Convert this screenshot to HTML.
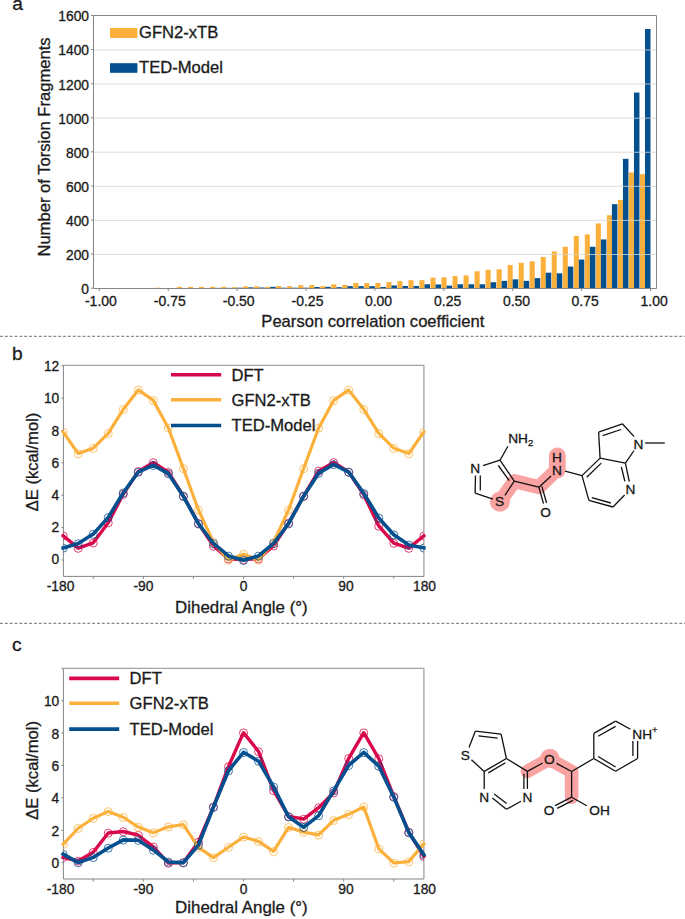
<!DOCTYPE html>
<html><head><meta charset="utf-8"><style>
html,body{margin:0;padding:0;background:#fff;width:685px;height:919px;overflow:hidden;}
svg{display:block;font-family:"Liberation Sans", sans-serif;}
text{stroke:#1a1a1a;stroke-width:0.3px;}
</style></head><body>
<svg width="685" height="919" viewBox="0 0 685 919">
<rect width="685" height="919" fill="#fff"/>
<text x="12.2" y="10" font-size="19.2" fill="#1a1a1a">a</text>
<rect x="99.75" y="288.20" width="5.06" height="0.00" fill="#FBB03B"/>
<rect x="104.81" y="288.03" width="5.51" height="0.17" fill="#04508F"/>
<rect x="110.77" y="288.20" width="5.06" height="0.00" fill="#FBB03B"/>
<rect x="115.84" y="288.03" width="5.51" height="0.17" fill="#04508F"/>
<rect x="121.80" y="288.20" width="5.06" height="0.00" fill="#FBB03B"/>
<rect x="126.86" y="288.03" width="5.51" height="0.17" fill="#04508F"/>
<rect x="132.82" y="288.20" width="5.06" height="0.00" fill="#FBB03B"/>
<rect x="137.88" y="288.03" width="5.51" height="0.17" fill="#04508F"/>
<rect x="143.85" y="288.20" width="5.06" height="0.00" fill="#FBB03B"/>
<rect x="148.91" y="288.03" width="5.51" height="0.17" fill="#04508F"/>
<rect x="154.87" y="287.69" width="5.06" height="0.51" fill="#FBB03B"/>
<rect x="159.93" y="288.03" width="5.51" height="0.17" fill="#04508F"/>
<rect x="165.89" y="288.03" width="5.06" height="0.17" fill="#FBB03B"/>
<rect x="170.96" y="288.03" width="5.51" height="0.17" fill="#04508F"/>
<rect x="176.92" y="286.84" width="5.06" height="1.36" fill="#FBB03B"/>
<rect x="181.98" y="288.03" width="5.51" height="0.17" fill="#04508F"/>
<rect x="187.94" y="286.84" width="5.06" height="1.36" fill="#FBB03B"/>
<rect x="193.00" y="288.03" width="5.51" height="0.17" fill="#04508F"/>
<rect x="198.97" y="286.84" width="5.06" height="1.36" fill="#FBB03B"/>
<rect x="204.03" y="288.03" width="5.51" height="0.17" fill="#04508F"/>
<rect x="209.99" y="286.84" width="5.06" height="1.36" fill="#FBB03B"/>
<rect x="215.05" y="287.86" width="5.51" height="0.34" fill="#04508F"/>
<rect x="221.01" y="286.84" width="5.06" height="1.36" fill="#FBB03B"/>
<rect x="226.08" y="287.86" width="5.51" height="0.34" fill="#04508F"/>
<rect x="232.04" y="287.18" width="5.06" height="1.02" fill="#FBB03B"/>
<rect x="237.10" y="287.69" width="5.51" height="0.51" fill="#04508F"/>
<rect x="243.06" y="286.33" width="5.06" height="1.87" fill="#FBB03B"/>
<rect x="248.12" y="287.35" width="5.51" height="0.85" fill="#04508F"/>
<rect x="254.09" y="286.33" width="5.06" height="1.87" fill="#FBB03B"/>
<rect x="259.15" y="287.52" width="5.51" height="0.68" fill="#04508F"/>
<rect x="265.11" y="286.84" width="5.06" height="1.36" fill="#FBB03B"/>
<rect x="270.17" y="286.84" width="5.51" height="1.36" fill="#04508F"/>
<rect x="276.13" y="285.98" width="5.06" height="2.22" fill="#FBB03B"/>
<rect x="281.20" y="287.69" width="5.51" height="0.51" fill="#04508F"/>
<rect x="287.16" y="286.15" width="5.06" height="2.05" fill="#FBB03B"/>
<rect x="292.22" y="287.69" width="5.51" height="0.51" fill="#04508F"/>
<rect x="298.18" y="285.13" width="5.06" height="3.07" fill="#FBB03B"/>
<rect x="303.24" y="287.69" width="5.51" height="0.51" fill="#04508F"/>
<rect x="309.21" y="285.13" width="5.06" height="3.07" fill="#FBB03B"/>
<rect x="314.27" y="287.01" width="5.51" height="1.19" fill="#04508F"/>
<rect x="320.23" y="286.15" width="5.06" height="2.05" fill="#FBB03B"/>
<rect x="325.29" y="286.84" width="5.51" height="1.36" fill="#04508F"/>
<rect x="331.25" y="284.28" width="5.06" height="3.92" fill="#FBB03B"/>
<rect x="336.32" y="287.18" width="5.51" height="1.02" fill="#04508F"/>
<rect x="342.28" y="284.96" width="5.06" height="3.24" fill="#FBB03B"/>
<rect x="347.34" y="286.15" width="5.51" height="2.05" fill="#04508F"/>
<rect x="353.30" y="282.92" width="5.06" height="5.28" fill="#FBB03B"/>
<rect x="358.36" y="286.15" width="5.51" height="2.05" fill="#04508F"/>
<rect x="364.33" y="283.09" width="5.06" height="5.11" fill="#FBB03B"/>
<rect x="369.39" y="286.15" width="5.51" height="2.05" fill="#04508F"/>
<rect x="375.35" y="282.92" width="5.06" height="5.28" fill="#FBB03B"/>
<rect x="380.41" y="287.01" width="5.51" height="1.19" fill="#04508F"/>
<rect x="386.37" y="282.06" width="5.06" height="6.14" fill="#FBB03B"/>
<rect x="391.44" y="285.47" width="5.51" height="2.73" fill="#04508F"/>
<rect x="397.40" y="281.04" width="5.06" height="7.16" fill="#FBB03B"/>
<rect x="402.46" y="285.98" width="5.51" height="2.22" fill="#04508F"/>
<rect x="408.42" y="280.19" width="5.06" height="8.01" fill="#FBB03B"/>
<rect x="413.48" y="285.98" width="5.51" height="2.22" fill="#04508F"/>
<rect x="419.45" y="280.19" width="5.06" height="8.01" fill="#FBB03B"/>
<rect x="424.51" y="284.28" width="5.51" height="3.92" fill="#04508F"/>
<rect x="430.47" y="277.63" width="5.06" height="10.57" fill="#FBB03B"/>
<rect x="435.53" y="284.45" width="5.51" height="3.75" fill="#04508F"/>
<rect x="441.49" y="277.29" width="5.06" height="10.91" fill="#FBB03B"/>
<rect x="446.56" y="285.64" width="5.51" height="2.56" fill="#04508F"/>
<rect x="452.52" y="276.10" width="5.06" height="12.10" fill="#FBB03B"/>
<rect x="457.58" y="284.28" width="5.51" height="3.92" fill="#04508F"/>
<rect x="463.54" y="275.42" width="5.06" height="12.78" fill="#FBB03B"/>
<rect x="468.60" y="284.28" width="5.51" height="3.92" fill="#04508F"/>
<rect x="474.57" y="271.33" width="5.06" height="16.87" fill="#FBB03B"/>
<rect x="479.63" y="284.28" width="5.51" height="3.92" fill="#04508F"/>
<rect x="485.59" y="269.79" width="5.06" height="18.41" fill="#FBB03B"/>
<rect x="490.65" y="282.23" width="5.51" height="5.97" fill="#04508F"/>
<rect x="496.61" y="269.28" width="5.06" height="18.92" fill="#FBB03B"/>
<rect x="501.68" y="280.87" width="5.51" height="7.33" fill="#04508F"/>
<rect x="507.64" y="265.02" width="5.06" height="23.18" fill="#FBB03B"/>
<rect x="512.70" y="279.34" width="5.51" height="8.86" fill="#04508F"/>
<rect x="518.66" y="262.80" width="5.06" height="25.40" fill="#FBB03B"/>
<rect x="523.72" y="280.87" width="5.51" height="7.33" fill="#04508F"/>
<rect x="529.69" y="261.27" width="5.06" height="26.93" fill="#FBB03B"/>
<rect x="534.75" y="278.14" width="5.51" height="10.06" fill="#04508F"/>
<rect x="540.71" y="257.01" width="5.06" height="31.19" fill="#FBB03B"/>
<rect x="545.77" y="272.69" width="5.51" height="15.51" fill="#04508F"/>
<rect x="551.73" y="251.39" width="5.06" height="36.81" fill="#FBB03B"/>
<rect x="556.80" y="273.37" width="5.51" height="14.83" fill="#04508F"/>
<rect x="562.76" y="246.78" width="5.06" height="41.42" fill="#FBB03B"/>
<rect x="567.82" y="266.55" width="5.51" height="21.65" fill="#04508F"/>
<rect x="573.78" y="235.88" width="5.06" height="52.32" fill="#FBB03B"/>
<rect x="578.84" y="259.57" width="5.51" height="28.63" fill="#04508F"/>
<rect x="584.81" y="234.34" width="5.06" height="53.86" fill="#FBB03B"/>
<rect x="589.87" y="246.78" width="5.51" height="41.42" fill="#04508F"/>
<rect x="595.83" y="223.43" width="5.06" height="64.77" fill="#FBB03B"/>
<rect x="600.89" y="239.45" width="5.51" height="48.75" fill="#04508F"/>
<rect x="606.85" y="215.25" width="5.06" height="72.95" fill="#FBB03B"/>
<rect x="611.92" y="204.17" width="5.51" height="84.03" fill="#04508F"/>
<rect x="617.88" y="199.91" width="5.06" height="88.29" fill="#FBB03B"/>
<rect x="622.94" y="158.84" width="5.51" height="129.36" fill="#04508F"/>
<rect x="628.90" y="172.47" width="5.06" height="115.73" fill="#FBB03B"/>
<rect x="633.96" y="92.54" width="5.51" height="195.66" fill="#04508F"/>
<rect x="639.93" y="174.18" width="5.06" height="114.02" fill="#FBB03B"/>
<rect x="644.99" y="28.96" width="5.51" height="259.24" fill="#04508F"/>
<line x1="94.0" y1="254.51" x2="656.0" y2="254.51" stroke="#d6d6d6" stroke-opacity="0.8" stroke-width="1"/>
<line x1="94.0" y1="220.42" x2="656.0" y2="220.42" stroke="#d6d6d6" stroke-opacity="0.8" stroke-width="1"/>
<line x1="94.0" y1="186.34" x2="656.0" y2="186.34" stroke="#d6d6d6" stroke-opacity="0.8" stroke-width="1"/>
<line x1="94.0" y1="152.25" x2="656.0" y2="152.25" stroke="#d6d6d6" stroke-opacity="0.8" stroke-width="1"/>
<line x1="94.0" y1="118.16" x2="656.0" y2="118.16" stroke="#d6d6d6" stroke-opacity="0.8" stroke-width="1"/>
<line x1="94.0" y1="84.08" x2="656.0" y2="84.08" stroke="#d6d6d6" stroke-opacity="0.8" stroke-width="1"/>
<line x1="94.0" y1="49.99" x2="656.0" y2="49.99" stroke="#d6d6d6" stroke-opacity="0.8" stroke-width="1"/>
<path d="M93.5 288.5 V15.5 H656.5 V288.5 Z" fill="none" stroke="#858585" stroke-width="1"/>
<line x1="91.0" y1="288.20" x2="93.5" y2="288.20" stroke="#858585" stroke-width="1"/>
<text x="89" y="294.10" font-size="13.8" text-anchor="end" fill="#1a1a1a">0</text>
<line x1="91.0" y1="254.11" x2="93.5" y2="254.11" stroke="#858585" stroke-width="1"/>
<text x="89" y="260.01" font-size="13.8" text-anchor="end" fill="#1a1a1a">200</text>
<line x1="91.0" y1="220.02" x2="93.5" y2="220.02" stroke="#858585" stroke-width="1"/>
<text x="89" y="225.92" font-size="13.8" text-anchor="end" fill="#1a1a1a">400</text>
<line x1="91.0" y1="185.94" x2="93.5" y2="185.94" stroke="#858585" stroke-width="1"/>
<text x="89" y="191.84" font-size="13.8" text-anchor="end" fill="#1a1a1a">600</text>
<line x1="91.0" y1="151.85" x2="93.5" y2="151.85" stroke="#858585" stroke-width="1"/>
<text x="89" y="157.75" font-size="13.8" text-anchor="end" fill="#1a1a1a">800</text>
<line x1="91.0" y1="117.76" x2="93.5" y2="117.76" stroke="#858585" stroke-width="1"/>
<text x="89" y="123.66" font-size="13.8" text-anchor="end" fill="#1a1a1a">1000</text>
<line x1="91.0" y1="83.68" x2="93.5" y2="83.68" stroke="#858585" stroke-width="1"/>
<text x="89" y="89.58" font-size="13.8" text-anchor="end" fill="#1a1a1a">1200</text>
<line x1="91.0" y1="49.59" x2="93.5" y2="49.59" stroke="#858585" stroke-width="1"/>
<text x="89" y="55.49" font-size="13.8" text-anchor="end" fill="#1a1a1a">1400</text>
<line x1="91.0" y1="15.50" x2="93.5" y2="15.50" stroke="#858585" stroke-width="1"/>
<text x="89" y="21.40" font-size="13.8" text-anchor="end" fill="#1a1a1a">1600</text>
<line x1="99.30" y1="288.5" x2="99.30" y2="291.0" stroke="#858585" stroke-width="1"/>
<text x="100.90" y="305.8" font-size="14" text-anchor="middle" fill="#1a1a1a">-1.00</text>
<line x1="168.20" y1="288.5" x2="168.20" y2="291.0" stroke="#858585" stroke-width="1"/>
<text x="169.80" y="305.8" font-size="14" text-anchor="middle" fill="#1a1a1a">-0.75</text>
<line x1="237.10" y1="288.5" x2="237.10" y2="291.0" stroke="#858585" stroke-width="1"/>
<text x="238.70" y="305.8" font-size="14" text-anchor="middle" fill="#1a1a1a">-0.50</text>
<line x1="306.00" y1="288.5" x2="306.00" y2="291.0" stroke="#858585" stroke-width="1"/>
<text x="307.50" y="305.8" font-size="14" text-anchor="middle" fill="#1a1a1a">-0.25</text>
<line x1="374.90" y1="288.5" x2="374.90" y2="291.0" stroke="#858585" stroke-width="1"/>
<text x="378.50" y="305.8" font-size="14" text-anchor="middle" fill="#1a1a1a">0.00</text>
<line x1="443.80" y1="288.5" x2="443.80" y2="291.0" stroke="#858585" stroke-width="1"/>
<text x="447.60" y="305.8" font-size="14" text-anchor="middle" fill="#1a1a1a">0.25</text>
<line x1="512.70" y1="288.5" x2="512.70" y2="291.0" stroke="#858585" stroke-width="1"/>
<text x="516.50" y="305.8" font-size="14" text-anchor="middle" fill="#1a1a1a">0.50</text>
<line x1="581.60" y1="288.5" x2="581.60" y2="291.0" stroke="#858585" stroke-width="1"/>
<text x="585.10" y="305.8" font-size="14" text-anchor="middle" fill="#1a1a1a">0.75</text>
<line x1="650.50" y1="288.5" x2="650.50" y2="291.0" stroke="#858585" stroke-width="1"/>
<text x="654.20" y="305.8" font-size="14" text-anchor="middle" fill="#1a1a1a">1.00</text>
<text x="372.8" y="326.8" font-size="16.6" text-anchor="middle" fill="#1a1a1a">Pearson correlation coefficient</text>
<text transform="translate(49.8 147) rotate(-90)" font-size="16.6" text-anchor="middle" fill="#1a1a1a">Number of Torsion Fragments</text>
<rect x="110" y="28" width="27.4" height="10" fill="#FBB03B"/>
<rect x="110" y="63.2" width="27.4" height="9.6" fill="#04508F"/>
<text x="139" y="38.4" font-size="16.6" fill="#1a1a1a">GFN2-xTB</text>
<text x="139" y="72.8" font-size="16.6" fill="#1a1a1a">TED-Model</text>
<line x1="0" y1="336.4" x2="685" y2="336.4" stroke="#8a8a8a" stroke-width="1.1" stroke-dasharray="2.88 1.972"/>
<line x1="0" y1="623.4" x2="685" y2="623.4" stroke="#8a8a8a" stroke-width="1.1" stroke-dasharray="2.88 1.972"/>
<clipPath id="clipb"><rect x="63.4" y="365.3" width="360.5" height="211.09999999999997"/></clipPath>
<text x="12.0" y="359.6" font-size="19.2" fill="#1a1a1a">b</text>
<path d="M63.4 365.3 H423.9 V576.4" fill="none" stroke="#a5a5a5" stroke-width="1.3"/>
<path d="M63.4 365.3 V576.4 H423.9" fill="none" stroke="#858585" stroke-width="1"/>
<line x1="61.4" y1="560.00" x2="63.4" y2="560.00" stroke="#858585" stroke-width="1"/>
<text x="59.3" y="564.40" font-size="13.8" text-anchor="end" fill="#1a1a1a">0</text>
<line x1="61.4" y1="527.60" x2="63.4" y2="527.60" stroke="#858585" stroke-width="1"/>
<text x="59.3" y="532.18" font-size="13.8" text-anchor="end" fill="#1a1a1a">2</text>
<line x1="61.4" y1="495.20" x2="63.4" y2="495.20" stroke="#858585" stroke-width="1"/>
<text x="59.3" y="499.97" font-size="13.8" text-anchor="end" fill="#1a1a1a">4</text>
<line x1="61.4" y1="462.80" x2="63.4" y2="462.80" stroke="#858585" stroke-width="1"/>
<text x="59.3" y="467.75" font-size="13.8" text-anchor="end" fill="#1a1a1a">6</text>
<line x1="61.4" y1="430.40" x2="63.4" y2="430.40" stroke="#858585" stroke-width="1"/>
<text x="59.3" y="435.53" font-size="13.8" text-anchor="end" fill="#1a1a1a">8</text>
<line x1="61.4" y1="398.00" x2="63.4" y2="398.00" stroke="#858585" stroke-width="1"/>
<text x="59.3" y="403.32" font-size="13.8" text-anchor="end" fill="#1a1a1a">10</text>
<line x1="61.4" y1="365.60" x2="63.4" y2="365.60" stroke="#858585" stroke-width="1"/>
<text x="59.3" y="371.10" font-size="13.8" text-anchor="end" fill="#1a1a1a">12</text>
<line x1="93.22" y1="576.4" x2="93.22" y2="578.9" stroke="#858585" stroke-width="1"/>
<line x1="143.31" y1="576.4" x2="143.31" y2="578.9" stroke="#858585" stroke-width="1"/>
<line x1="193.41" y1="576.4" x2="193.41" y2="578.9" stroke="#858585" stroke-width="1"/>
<line x1="243.50" y1="576.4" x2="243.50" y2="578.9" stroke="#858585" stroke-width="1"/>
<line x1="293.60" y1="576.4" x2="293.60" y2="578.9" stroke="#858585" stroke-width="1"/>
<line x1="343.69" y1="576.4" x2="343.69" y2="578.9" stroke="#858585" stroke-width="1"/>
<line x1="393.78" y1="576.4" x2="393.78" y2="578.9" stroke="#858585" stroke-width="1"/>
<text x="60.5" y="590.8" font-size="13.8" text-anchor="middle" fill="#1a1a1a">-180</text>
<text x="143.5" y="590.8" font-size="13.8" text-anchor="middle" fill="#1a1a1a">-90</text>
<text x="243.6" y="590.8" font-size="13.8" text-anchor="middle" fill="#1a1a1a">0</text>
<text x="346" y="590.8" font-size="13.8" text-anchor="middle" fill="#1a1a1a">90</text>
<text x="424.5" y="590.8" font-size="13.8" text-anchor="middle" fill="#1a1a1a">180</text>
<text x="241.4" y="613.2" font-size="16.9" text-anchor="middle" fill="#1a1a1a">Dihedral Angle (°)</text>
<text transform="translate(38.3 462) rotate(-90)" font-size="16.6" text-anchor="middle" fill="#1a1a1a">ΔE (kcal/mol)</text>
<path d="M63.16 535.70 L78.19 548.17 L93.22 542.83 L108.24 522.74 L123.27 494.07 L138.30 471.39 L153.33 462.48 L168.36 472.20 L183.39 496.01 L198.41 523.39 L213.44 546.07 L228.47 558.70 L243.50 559.51 L258.53 558.70 L273.56 545.74 L288.59 523.06 L303.61 496.17 L318.64 470.90 L333.67 462.48 L348.70 472.03 L363.73 494.55 L378.76 525.98 L393.78 543.15 L408.81 548.17 L423.84 535.86" fill="none" stroke="#D9084A" stroke-width="3.4" stroke-linejoin="round" stroke-linecap="square"/>
<g clip-path="url(#clipb)">
<circle cx="63.16" cy="535.90" r="4.0" fill="none" stroke="#D9084A" stroke-width="0.9" stroke-opacity="0.85"/>
<circle cx="78.19" cy="548.37" r="4.0" fill="none" stroke="#D9084A" stroke-width="0.9" stroke-opacity="0.85"/>
<circle cx="93.22" cy="543.03" r="4.0" fill="none" stroke="#D9084A" stroke-width="0.9" stroke-opacity="0.85"/>
<circle cx="108.24" cy="522.94" r="4.0" fill="none" stroke="#D9084A" stroke-width="0.9" stroke-opacity="0.85"/>
<circle cx="123.27" cy="494.27" r="4.0" fill="none" stroke="#D9084A" stroke-width="0.9" stroke-opacity="0.85"/>
<circle cx="138.30" cy="471.59" r="4.0" fill="none" stroke="#D9084A" stroke-width="0.9" stroke-opacity="0.85"/>
<circle cx="153.33" cy="462.68" r="4.0" fill="none" stroke="#D9084A" stroke-width="0.9" stroke-opacity="0.85"/>
<circle cx="168.36" cy="472.40" r="4.0" fill="none" stroke="#D9084A" stroke-width="0.9" stroke-opacity="0.85"/>
<circle cx="183.39" cy="496.21" r="4.0" fill="none" stroke="#D9084A" stroke-width="0.9" stroke-opacity="0.85"/>
<circle cx="198.41" cy="523.59" r="4.0" fill="none" stroke="#D9084A" stroke-width="0.9" stroke-opacity="0.85"/>
<circle cx="213.44" cy="546.27" r="4.0" fill="none" stroke="#D9084A" stroke-width="0.9" stroke-opacity="0.85"/>
<circle cx="228.47" cy="558.90" r="4.0" fill="none" stroke="#D9084A" stroke-width="0.9" stroke-opacity="0.85"/>
<circle cx="243.50" cy="559.71" r="4.0" fill="none" stroke="#D9084A" stroke-width="0.9" stroke-opacity="0.85"/>
<circle cx="258.53" cy="558.90" r="4.0" fill="none" stroke="#D9084A" stroke-width="0.9" stroke-opacity="0.85"/>
<circle cx="273.56" cy="545.94" r="4.0" fill="none" stroke="#D9084A" stroke-width="0.9" stroke-opacity="0.85"/>
<circle cx="288.59" cy="523.26" r="4.0" fill="none" stroke="#D9084A" stroke-width="0.9" stroke-opacity="0.85"/>
<circle cx="303.61" cy="496.37" r="4.0" fill="none" stroke="#D9084A" stroke-width="0.9" stroke-opacity="0.85"/>
<circle cx="318.64" cy="471.10" r="4.0" fill="none" stroke="#D9084A" stroke-width="0.9" stroke-opacity="0.85"/>
<circle cx="333.67" cy="462.68" r="4.0" fill="none" stroke="#D9084A" stroke-width="0.9" stroke-opacity="0.85"/>
<circle cx="348.70" cy="472.23" r="4.0" fill="none" stroke="#D9084A" stroke-width="0.9" stroke-opacity="0.85"/>
<circle cx="363.73" cy="494.75" r="4.0" fill="none" stroke="#D9084A" stroke-width="0.9" stroke-opacity="0.85"/>
<circle cx="378.76" cy="526.18" r="4.0" fill="none" stroke="#D9084A" stroke-width="0.9" stroke-opacity="0.85"/>
<circle cx="393.78" cy="543.35" r="4.0" fill="none" stroke="#D9084A" stroke-width="0.9" stroke-opacity="0.85"/>
<circle cx="408.81" cy="548.37" r="4.0" fill="none" stroke="#D9084A" stroke-width="0.9" stroke-opacity="0.85"/>
<circle cx="423.84" cy="536.06" r="4.0" fill="none" stroke="#D9084A" stroke-width="0.9" stroke-opacity="0.85"/>
</g>
<path d="M63.16 432.02 L78.19 453.57 L93.22 448.22 L108.24 433.32 L123.27 409.34 L138.30 389.90 L153.33 400.43 L168.36 427.97 L183.39 468.47 L198.41 509.94 L213.44 542.18 L228.47 560.00 L243.50 554.17 L258.53 560.00 L273.56 542.18 L288.59 509.94 L303.61 468.47 L318.64 427.97 L333.67 400.43 L348.70 389.90 L363.73 409.34 L378.76 433.32 L393.78 448.22 L408.81 453.57 L423.84 432.02" fill="none" stroke="#FBB03B" stroke-width="3.2" stroke-linejoin="round" stroke-linecap="square"/>
<g clip-path="url(#clipb)">
<circle cx="63.16" cy="432.22" r="4.0" fill="none" stroke="#FBB03B" stroke-width="0.9" stroke-opacity="0.85"/>
<circle cx="78.19" cy="453.77" r="4.0" fill="none" stroke="#FBB03B" stroke-width="0.9" stroke-opacity="0.85"/>
<circle cx="93.22" cy="448.42" r="4.0" fill="none" stroke="#FBB03B" stroke-width="0.9" stroke-opacity="0.85"/>
<circle cx="108.24" cy="433.52" r="4.0" fill="none" stroke="#FBB03B" stroke-width="0.9" stroke-opacity="0.85"/>
<circle cx="123.27" cy="409.54" r="4.0" fill="none" stroke="#FBB03B" stroke-width="0.9" stroke-opacity="0.85"/>
<circle cx="138.30" cy="390.10" r="4.0" fill="none" stroke="#FBB03B" stroke-width="0.9" stroke-opacity="0.85"/>
<circle cx="153.33" cy="400.63" r="4.0" fill="none" stroke="#FBB03B" stroke-width="0.9" stroke-opacity="0.85"/>
<circle cx="168.36" cy="428.17" r="4.0" fill="none" stroke="#FBB03B" stroke-width="0.9" stroke-opacity="0.85"/>
<circle cx="183.39" cy="468.67" r="4.0" fill="none" stroke="#FBB03B" stroke-width="0.9" stroke-opacity="0.85"/>
<circle cx="198.41" cy="510.14" r="4.0" fill="none" stroke="#FBB03B" stroke-width="0.9" stroke-opacity="0.85"/>
<circle cx="213.44" cy="542.38" r="4.0" fill="none" stroke="#FBB03B" stroke-width="0.9" stroke-opacity="0.85"/>
<circle cx="228.47" cy="560.20" r="4.0" fill="none" stroke="#FBB03B" stroke-width="0.9" stroke-opacity="0.85"/>
<circle cx="243.50" cy="554.37" r="4.0" fill="none" stroke="#FBB03B" stroke-width="0.9" stroke-opacity="0.85"/>
<circle cx="258.53" cy="560.20" r="4.0" fill="none" stroke="#FBB03B" stroke-width="0.9" stroke-opacity="0.85"/>
<circle cx="273.56" cy="542.38" r="4.0" fill="none" stroke="#FBB03B" stroke-width="0.9" stroke-opacity="0.85"/>
<circle cx="288.59" cy="510.14" r="4.0" fill="none" stroke="#FBB03B" stroke-width="0.9" stroke-opacity="0.85"/>
<circle cx="303.61" cy="468.67" r="4.0" fill="none" stroke="#FBB03B" stroke-width="0.9" stroke-opacity="0.85"/>
<circle cx="318.64" cy="428.17" r="4.0" fill="none" stroke="#FBB03B" stroke-width="0.9" stroke-opacity="0.85"/>
<circle cx="333.67" cy="400.63" r="4.0" fill="none" stroke="#FBB03B" stroke-width="0.9" stroke-opacity="0.85"/>
<circle cx="348.70" cy="390.10" r="4.0" fill="none" stroke="#FBB03B" stroke-width="0.9" stroke-opacity="0.85"/>
<circle cx="363.73" cy="409.54" r="4.0" fill="none" stroke="#FBB03B" stroke-width="0.9" stroke-opacity="0.85"/>
<circle cx="378.76" cy="433.52" r="4.0" fill="none" stroke="#FBB03B" stroke-width="0.9" stroke-opacity="0.85"/>
<circle cx="393.78" cy="448.42" r="4.0" fill="none" stroke="#FBB03B" stroke-width="0.9" stroke-opacity="0.85"/>
<circle cx="408.81" cy="453.77" r="4.0" fill="none" stroke="#FBB03B" stroke-width="0.9" stroke-opacity="0.85"/>
<circle cx="423.84" cy="432.22" r="4.0" fill="none" stroke="#FBB03B" stroke-width="0.9" stroke-opacity="0.85"/>
</g>
<path d="M63.16 548.01 L78.19 543.48 L93.22 534.08 L108.24 517.39 L123.27 492.77 L138.30 472.03 L153.33 465.23 L168.36 473.65 L183.39 496.33 L198.41 523.71 L213.44 543.48 L228.47 555.95 L243.50 560.32 L258.53 555.95 L273.56 543.48 L288.59 523.71 L303.61 496.17 L318.64 473.17 L333.67 464.42 L348.70 472.03 L363.73 493.26 L378.76 517.88 L393.78 534.73 L408.81 544.93 L423.84 547.85" fill="none" stroke="#04508F" stroke-width="3.6" stroke-linejoin="round" stroke-linecap="square"/>
<g clip-path="url(#clipb)">
<circle cx="63.16" cy="548.21" r="4.0" fill="none" stroke="#04508F" stroke-width="0.9" stroke-opacity="0.85"/>
<circle cx="78.19" cy="543.68" r="4.0" fill="none" stroke="#04508F" stroke-width="0.9" stroke-opacity="0.85"/>
<circle cx="93.22" cy="534.28" r="4.0" fill="none" stroke="#04508F" stroke-width="0.9" stroke-opacity="0.85"/>
<circle cx="108.24" cy="517.59" r="4.0" fill="none" stroke="#04508F" stroke-width="0.9" stroke-opacity="0.85"/>
<circle cx="123.27" cy="492.97" r="4.0" fill="none" stroke="#04508F" stroke-width="0.9" stroke-opacity="0.85"/>
<circle cx="138.30" cy="472.23" r="4.0" fill="none" stroke="#04508F" stroke-width="0.9" stroke-opacity="0.85"/>
<circle cx="153.33" cy="465.43" r="4.0" fill="none" stroke="#04508F" stroke-width="0.9" stroke-opacity="0.85"/>
<circle cx="168.36" cy="473.85" r="4.0" fill="none" stroke="#04508F" stroke-width="0.9" stroke-opacity="0.85"/>
<circle cx="183.39" cy="496.53" r="4.0" fill="none" stroke="#04508F" stroke-width="0.9" stroke-opacity="0.85"/>
<circle cx="198.41" cy="523.91" r="4.0" fill="none" stroke="#04508F" stroke-width="0.9" stroke-opacity="0.85"/>
<circle cx="213.44" cy="543.68" r="4.0" fill="none" stroke="#04508F" stroke-width="0.9" stroke-opacity="0.85"/>
<circle cx="228.47" cy="556.15" r="4.0" fill="none" stroke="#04508F" stroke-width="0.9" stroke-opacity="0.85"/>
<circle cx="243.50" cy="560.52" r="4.0" fill="none" stroke="#04508F" stroke-width="0.9" stroke-opacity="0.85"/>
<circle cx="258.53" cy="556.15" r="4.0" fill="none" stroke="#04508F" stroke-width="0.9" stroke-opacity="0.85"/>
<circle cx="273.56" cy="543.68" r="4.0" fill="none" stroke="#04508F" stroke-width="0.9" stroke-opacity="0.85"/>
<circle cx="288.59" cy="523.91" r="4.0" fill="none" stroke="#04508F" stroke-width="0.9" stroke-opacity="0.85"/>
<circle cx="303.61" cy="496.37" r="4.0" fill="none" stroke="#04508F" stroke-width="0.9" stroke-opacity="0.85"/>
<circle cx="318.64" cy="473.37" r="4.0" fill="none" stroke="#04508F" stroke-width="0.9" stroke-opacity="0.85"/>
<circle cx="333.67" cy="464.62" r="4.0" fill="none" stroke="#04508F" stroke-width="0.9" stroke-opacity="0.85"/>
<circle cx="348.70" cy="472.23" r="4.0" fill="none" stroke="#04508F" stroke-width="0.9" stroke-opacity="0.85"/>
<circle cx="363.73" cy="493.46" r="4.0" fill="none" stroke="#04508F" stroke-width="0.9" stroke-opacity="0.85"/>
<circle cx="378.76" cy="518.08" r="4.0" fill="none" stroke="#04508F" stroke-width="0.9" stroke-opacity="0.85"/>
<circle cx="393.78" cy="534.93" r="4.0" fill="none" stroke="#04508F" stroke-width="0.9" stroke-opacity="0.85"/>
<circle cx="408.81" cy="545.13" r="4.0" fill="none" stroke="#04508F" stroke-width="0.9" stroke-opacity="0.85"/>
<circle cx="423.84" cy="548.05" r="4.0" fill="none" stroke="#04508F" stroke-width="0.9" stroke-opacity="0.85"/>
</g>
<line x1="171" y1="374.8" x2="221.2" y2="374.8" stroke="#D9084A" stroke-width="3.6"/>
<text x="231.5" y="380.70" font-size="16.6" fill="#1a1a1a">DFT</text>
<line x1="171" y1="399.7" x2="221.2" y2="399.7" stroke="#FBB03B" stroke-width="3.6"/>
<text x="231.5" y="405.60" font-size="16.6" fill="#1a1a1a">GFN2-xTB</text>
<line x1="171" y1="425.5" x2="221.2" y2="425.5" stroke="#04508F" stroke-width="3.6"/>
<text x="231.5" y="431.40" font-size="16.6" fill="#1a1a1a">TED-Model</text>
<clipPath id="clipc"><rect x="63.4" y="668.4" width="360.5" height="210.60000000000002"/></clipPath>
<text x="12.0" y="651" font-size="19.2" fill="#1a1a1a">c</text>
<path d="M63.4 668.4 H423.9 V879.0" fill="none" stroke="#a5a5a5" stroke-width="1.3"/>
<path d="M63.4 668.4 V879.0 H423.9" fill="none" stroke="#858585" stroke-width="1"/>
<line x1="61.4" y1="862.60" x2="63.4" y2="862.60" stroke="#858585" stroke-width="1"/>
<text x="59.3" y="868.10" font-size="13.8" text-anchor="end" fill="#1a1a1a">0</text>
<line x1="61.4" y1="830.20" x2="63.4" y2="830.20" stroke="#858585" stroke-width="1"/>
<text x="59.3" y="835.70" font-size="13.8" text-anchor="end" fill="#1a1a1a">2</text>
<line x1="61.4" y1="797.80" x2="63.4" y2="797.80" stroke="#858585" stroke-width="1"/>
<text x="59.3" y="803.30" font-size="13.8" text-anchor="end" fill="#1a1a1a">4</text>
<line x1="61.4" y1="765.40" x2="63.4" y2="765.40" stroke="#858585" stroke-width="1"/>
<text x="59.3" y="770.90" font-size="13.8" text-anchor="end" fill="#1a1a1a">6</text>
<line x1="61.4" y1="733.00" x2="63.4" y2="733.00" stroke="#858585" stroke-width="1"/>
<text x="59.3" y="738.50" font-size="13.8" text-anchor="end" fill="#1a1a1a">8</text>
<line x1="61.4" y1="700.60" x2="63.4" y2="700.60" stroke="#858585" stroke-width="1"/>
<text x="59.3" y="706.10" font-size="13.8" text-anchor="end" fill="#1a1a1a">10</text>
<line x1="61.4" y1="668.20" x2="63.4" y2="668.20" stroke="#858585" stroke-width="1"/>
<line x1="93.22" y1="879.0" x2="93.22" y2="881.5" stroke="#858585" stroke-width="1"/>
<line x1="143.31" y1="879.0" x2="143.31" y2="881.5" stroke="#858585" stroke-width="1"/>
<line x1="193.41" y1="879.0" x2="193.41" y2="881.5" stroke="#858585" stroke-width="1"/>
<line x1="243.50" y1="879.0" x2="243.50" y2="881.5" stroke="#858585" stroke-width="1"/>
<line x1="293.60" y1="879.0" x2="293.60" y2="881.5" stroke="#858585" stroke-width="1"/>
<line x1="343.69" y1="879.0" x2="343.69" y2="881.5" stroke="#858585" stroke-width="1"/>
<line x1="393.78" y1="879.0" x2="393.78" y2="881.5" stroke="#858585" stroke-width="1"/>
<text x="60.5" y="893.6" font-size="13.8" text-anchor="middle" fill="#1a1a1a">-180</text>
<text x="143.5" y="893.6" font-size="13.8" text-anchor="middle" fill="#1a1a1a">-90</text>
<text x="243.6" y="893.6" font-size="13.8" text-anchor="middle" fill="#1a1a1a">0</text>
<text x="346" y="893.6" font-size="13.8" text-anchor="middle" fill="#1a1a1a">90</text>
<text x="424.5" y="893.6" font-size="13.8" text-anchor="middle" fill="#1a1a1a">180</text>
<text x="241.4" y="913.3" font-size="16.9" text-anchor="middle" fill="#1a1a1a">Dihedral Angle (°)</text>
<text transform="translate(38.3 770.4) rotate(-90)" font-size="16.6" text-anchor="middle" fill="#1a1a1a">ΔE (kcal/mol)</text>
<path d="M63.16 857.42 L78.19 860.98 L93.22 852.23 L108.24 832.95 L123.27 831.50 L138.30 835.22 L153.33 846.89 L168.36 863.09 L183.39 862.60 L198.41 842.03 L213.44 806.87 L228.47 766.53 L243.50 732.68 L258.53 751.47 L273.56 790.51 L288.59 816.43 L303.61 819.02 L318.64 807.68 L333.67 792.78 L348.70 758.27 L363.73 732.68 L378.76 758.60 L393.78 796.34 L408.81 832.14 L423.84 856.44" fill="none" stroke="#D9084A" stroke-width="3.4" stroke-linejoin="round" stroke-linecap="square"/>
<g clip-path="url(#clipc)">
<circle cx="63.16" cy="857.62" r="4.0" fill="none" stroke="#D9084A" stroke-width="0.9" stroke-opacity="0.85"/>
<circle cx="78.19" cy="861.18" r="4.0" fill="none" stroke="#D9084A" stroke-width="0.9" stroke-opacity="0.85"/>
<circle cx="93.22" cy="852.43" r="4.0" fill="none" stroke="#D9084A" stroke-width="0.9" stroke-opacity="0.85"/>
<circle cx="108.24" cy="833.15" r="4.0" fill="none" stroke="#D9084A" stroke-width="0.9" stroke-opacity="0.85"/>
<circle cx="123.27" cy="831.70" r="4.0" fill="none" stroke="#D9084A" stroke-width="0.9" stroke-opacity="0.85"/>
<circle cx="138.30" cy="835.42" r="4.0" fill="none" stroke="#D9084A" stroke-width="0.9" stroke-opacity="0.85"/>
<circle cx="153.33" cy="847.09" r="4.0" fill="none" stroke="#D9084A" stroke-width="0.9" stroke-opacity="0.85"/>
<circle cx="168.36" cy="863.29" r="4.0" fill="none" stroke="#D9084A" stroke-width="0.9" stroke-opacity="0.85"/>
<circle cx="183.39" cy="862.80" r="4.0" fill="none" stroke="#D9084A" stroke-width="0.9" stroke-opacity="0.85"/>
<circle cx="198.41" cy="842.23" r="4.0" fill="none" stroke="#D9084A" stroke-width="0.9" stroke-opacity="0.85"/>
<circle cx="213.44" cy="807.07" r="4.0" fill="none" stroke="#D9084A" stroke-width="0.9" stroke-opacity="0.85"/>
<circle cx="228.47" cy="766.73" r="4.0" fill="none" stroke="#D9084A" stroke-width="0.9" stroke-opacity="0.85"/>
<circle cx="243.50" cy="732.88" r="4.0" fill="none" stroke="#D9084A" stroke-width="0.9" stroke-opacity="0.85"/>
<circle cx="258.53" cy="751.67" r="4.0" fill="none" stroke="#D9084A" stroke-width="0.9" stroke-opacity="0.85"/>
<circle cx="273.56" cy="790.71" r="4.0" fill="none" stroke="#D9084A" stroke-width="0.9" stroke-opacity="0.85"/>
<circle cx="288.59" cy="816.63" r="4.0" fill="none" stroke="#D9084A" stroke-width="0.9" stroke-opacity="0.85"/>
<circle cx="303.61" cy="819.22" r="4.0" fill="none" stroke="#D9084A" stroke-width="0.9" stroke-opacity="0.85"/>
<circle cx="318.64" cy="807.88" r="4.0" fill="none" stroke="#D9084A" stroke-width="0.9" stroke-opacity="0.85"/>
<circle cx="333.67" cy="792.98" r="4.0" fill="none" stroke="#D9084A" stroke-width="0.9" stroke-opacity="0.85"/>
<circle cx="348.70" cy="758.47" r="4.0" fill="none" stroke="#D9084A" stroke-width="0.9" stroke-opacity="0.85"/>
<circle cx="363.73" cy="732.88" r="4.0" fill="none" stroke="#D9084A" stroke-width="0.9" stroke-opacity="0.85"/>
<circle cx="378.76" cy="758.80" r="4.0" fill="none" stroke="#D9084A" stroke-width="0.9" stroke-opacity="0.85"/>
<circle cx="393.78" cy="796.54" r="4.0" fill="none" stroke="#D9084A" stroke-width="0.9" stroke-opacity="0.85"/>
<circle cx="408.81" cy="832.34" r="4.0" fill="none" stroke="#D9084A" stroke-width="0.9" stroke-opacity="0.85"/>
<circle cx="423.84" cy="856.64" r="4.0" fill="none" stroke="#D9084A" stroke-width="0.9" stroke-opacity="0.85"/>
</g>
<path d="M63.16 844.29 L78.19 828.26 L93.22 818.21 L108.24 811.41 L123.27 817.24 L138.30 827.12 L153.33 832.63 L168.36 826.80 L183.39 824.53 L198.41 847.37 L213.44 857.58 L228.47 847.21 L243.50 837.00 L258.53 841.38 L273.56 851.42 L288.59 827.28 L303.61 832.14 L318.64 834.90 L333.67 820.32 L348.70 814.32 L363.73 806.87 L378.76 848.83 L393.78 862.92 L408.81 861.63 L423.84 843.65" fill="none" stroke="#FBB03B" stroke-width="3.2" stroke-linejoin="round" stroke-linecap="square"/>
<g clip-path="url(#clipc)">
<circle cx="63.16" cy="844.49" r="4.0" fill="none" stroke="#FBB03B" stroke-width="0.9" stroke-opacity="0.85"/>
<circle cx="78.19" cy="828.46" r="4.0" fill="none" stroke="#FBB03B" stroke-width="0.9" stroke-opacity="0.85"/>
<circle cx="93.22" cy="818.41" r="4.0" fill="none" stroke="#FBB03B" stroke-width="0.9" stroke-opacity="0.85"/>
<circle cx="108.24" cy="811.61" r="4.0" fill="none" stroke="#FBB03B" stroke-width="0.9" stroke-opacity="0.85"/>
<circle cx="123.27" cy="817.44" r="4.0" fill="none" stroke="#FBB03B" stroke-width="0.9" stroke-opacity="0.85"/>
<circle cx="138.30" cy="827.32" r="4.0" fill="none" stroke="#FBB03B" stroke-width="0.9" stroke-opacity="0.85"/>
<circle cx="153.33" cy="832.83" r="4.0" fill="none" stroke="#FBB03B" stroke-width="0.9" stroke-opacity="0.85"/>
<circle cx="168.36" cy="827.00" r="4.0" fill="none" stroke="#FBB03B" stroke-width="0.9" stroke-opacity="0.85"/>
<circle cx="183.39" cy="824.73" r="4.0" fill="none" stroke="#FBB03B" stroke-width="0.9" stroke-opacity="0.85"/>
<circle cx="198.41" cy="847.57" r="4.0" fill="none" stroke="#FBB03B" stroke-width="0.9" stroke-opacity="0.85"/>
<circle cx="213.44" cy="857.78" r="4.0" fill="none" stroke="#FBB03B" stroke-width="0.9" stroke-opacity="0.85"/>
<circle cx="228.47" cy="847.41" r="4.0" fill="none" stroke="#FBB03B" stroke-width="0.9" stroke-opacity="0.85"/>
<circle cx="243.50" cy="837.20" r="4.0" fill="none" stroke="#FBB03B" stroke-width="0.9" stroke-opacity="0.85"/>
<circle cx="258.53" cy="841.58" r="4.0" fill="none" stroke="#FBB03B" stroke-width="0.9" stroke-opacity="0.85"/>
<circle cx="273.56" cy="851.62" r="4.0" fill="none" stroke="#FBB03B" stroke-width="0.9" stroke-opacity="0.85"/>
<circle cx="288.59" cy="827.48" r="4.0" fill="none" stroke="#FBB03B" stroke-width="0.9" stroke-opacity="0.85"/>
<circle cx="303.61" cy="832.34" r="4.0" fill="none" stroke="#FBB03B" stroke-width="0.9" stroke-opacity="0.85"/>
<circle cx="318.64" cy="835.10" r="4.0" fill="none" stroke="#FBB03B" stroke-width="0.9" stroke-opacity="0.85"/>
<circle cx="333.67" cy="820.52" r="4.0" fill="none" stroke="#FBB03B" stroke-width="0.9" stroke-opacity="0.85"/>
<circle cx="348.70" cy="814.52" r="4.0" fill="none" stroke="#FBB03B" stroke-width="0.9" stroke-opacity="0.85"/>
<circle cx="363.73" cy="807.07" r="4.0" fill="none" stroke="#FBB03B" stroke-width="0.9" stroke-opacity="0.85"/>
<circle cx="378.76" cy="849.03" r="4.0" fill="none" stroke="#FBB03B" stroke-width="0.9" stroke-opacity="0.85"/>
<circle cx="393.78" cy="863.12" r="4.0" fill="none" stroke="#FBB03B" stroke-width="0.9" stroke-opacity="0.85"/>
<circle cx="408.81" cy="861.83" r="4.0" fill="none" stroke="#FBB03B" stroke-width="0.9" stroke-opacity="0.85"/>
<circle cx="423.84" cy="843.85" r="4.0" fill="none" stroke="#FBB03B" stroke-width="0.9" stroke-opacity="0.85"/>
</g>
<path d="M63.16 854.18 L78.19 862.60 L93.22 857.42 L108.24 848.02 L123.27 839.92 L138.30 840.24 L153.33 849.96 L168.36 861.95 L183.39 862.60 L198.41 845.10 L213.44 807.20 L228.47 770.75 L243.50 752.28 L258.53 761.19 L273.56 786.78 L288.59 816.75 L303.61 827.28 L318.64 815.62 L333.67 790.67 L348.70 765.40 L363.73 752.44 L378.76 766.05 L393.78 797.15 L408.81 832.63 L423.84 854.66" fill="none" stroke="#04508F" stroke-width="3.6" stroke-linejoin="round" stroke-linecap="square"/>
<g clip-path="url(#clipc)">
<circle cx="63.16" cy="854.38" r="4.0" fill="none" stroke="#04508F" stroke-width="0.9" stroke-opacity="0.85"/>
<circle cx="78.19" cy="862.80" r="4.0" fill="none" stroke="#04508F" stroke-width="0.9" stroke-opacity="0.85"/>
<circle cx="93.22" cy="857.62" r="4.0" fill="none" stroke="#04508F" stroke-width="0.9" stroke-opacity="0.85"/>
<circle cx="108.24" cy="848.22" r="4.0" fill="none" stroke="#04508F" stroke-width="0.9" stroke-opacity="0.85"/>
<circle cx="123.27" cy="840.12" r="4.0" fill="none" stroke="#04508F" stroke-width="0.9" stroke-opacity="0.85"/>
<circle cx="138.30" cy="840.44" r="4.0" fill="none" stroke="#04508F" stroke-width="0.9" stroke-opacity="0.85"/>
<circle cx="153.33" cy="850.16" r="4.0" fill="none" stroke="#04508F" stroke-width="0.9" stroke-opacity="0.85"/>
<circle cx="168.36" cy="862.15" r="4.0" fill="none" stroke="#04508F" stroke-width="0.9" stroke-opacity="0.85"/>
<circle cx="183.39" cy="862.80" r="4.0" fill="none" stroke="#04508F" stroke-width="0.9" stroke-opacity="0.85"/>
<circle cx="198.41" cy="845.30" r="4.0" fill="none" stroke="#04508F" stroke-width="0.9" stroke-opacity="0.85"/>
<circle cx="213.44" cy="807.40" r="4.0" fill="none" stroke="#04508F" stroke-width="0.9" stroke-opacity="0.85"/>
<circle cx="228.47" cy="770.95" r="4.0" fill="none" stroke="#04508F" stroke-width="0.9" stroke-opacity="0.85"/>
<circle cx="243.50" cy="752.48" r="4.0" fill="none" stroke="#04508F" stroke-width="0.9" stroke-opacity="0.85"/>
<circle cx="258.53" cy="761.39" r="4.0" fill="none" stroke="#04508F" stroke-width="0.9" stroke-opacity="0.85"/>
<circle cx="273.56" cy="786.98" r="4.0" fill="none" stroke="#04508F" stroke-width="0.9" stroke-opacity="0.85"/>
<circle cx="288.59" cy="816.95" r="4.0" fill="none" stroke="#04508F" stroke-width="0.9" stroke-opacity="0.85"/>
<circle cx="303.61" cy="827.48" r="4.0" fill="none" stroke="#04508F" stroke-width="0.9" stroke-opacity="0.85"/>
<circle cx="318.64" cy="815.82" r="4.0" fill="none" stroke="#04508F" stroke-width="0.9" stroke-opacity="0.85"/>
<circle cx="333.67" cy="790.87" r="4.0" fill="none" stroke="#04508F" stroke-width="0.9" stroke-opacity="0.85"/>
<circle cx="348.70" cy="765.60" r="4.0" fill="none" stroke="#04508F" stroke-width="0.9" stroke-opacity="0.85"/>
<circle cx="363.73" cy="752.64" r="4.0" fill="none" stroke="#04508F" stroke-width="0.9" stroke-opacity="0.85"/>
<circle cx="378.76" cy="766.25" r="4.0" fill="none" stroke="#04508F" stroke-width="0.9" stroke-opacity="0.85"/>
<circle cx="393.78" cy="797.35" r="4.0" fill="none" stroke="#04508F" stroke-width="0.9" stroke-opacity="0.85"/>
<circle cx="408.81" cy="832.83" r="4.0" fill="none" stroke="#04508F" stroke-width="0.9" stroke-opacity="0.85"/>
<circle cx="423.84" cy="854.86" r="4.0" fill="none" stroke="#04508F" stroke-width="0.9" stroke-opacity="0.85"/>
</g>
<line x1="69.2" y1="678.4" x2="119.2" y2="678.4" stroke="#D9084A" stroke-width="3.6"/>
<text x="129.6" y="684.30" font-size="16.6" fill="#1a1a1a">DFT</text>
<line x1="69.2" y1="703.3" x2="119.2" y2="703.3" stroke="#FBB03B" stroke-width="3.6"/>
<text x="129.6" y="709.20" font-size="16.6" fill="#1a1a1a">GFN2-xTB</text>
<line x1="69.2" y1="729.1" x2="119.2" y2="729.1" stroke="#04508F" stroke-width="3.6"/>
<text x="129.6" y="735.00" font-size="16.6" fill="#1a1a1a">TED-Model</text>
<path d="M499.9 501.8 L514.3 481.2 L538.9 487.2 L557 469.7 L557 456.5" fill="none" stroke="#F9A3A3" stroke-width="14.2" stroke-linecap="round" stroke-linejoin="round"/>
<circle cx="499.9" cy="501.8" r="10" fill="#F9A3A3"/>
<line x1="557.3" y1="470.0" x2="557.3" y2="455.9" stroke="#F9A3A3" stroke-width="16.8" stroke-linecap="round"/>
<line x1="483" y1="465.7" x2="500" y2="460.2" stroke="#111111" stroke-width="1.3" stroke-linecap="butt"/>
<line x1="500" y1="460.2" x2="507.9" y2="446.2" stroke="#111111" stroke-width="1.3" stroke-linecap="butt"/>
<line x1="500" y1="460.2" x2="514.3" y2="481.2" stroke="#111111" stroke-width="1.3" stroke-linecap="butt"/>
<line x1="498.3" y1="465.5" x2="509.2" y2="480.6" stroke="#111111" stroke-width="1.3" stroke-linecap="butt"/>
<line x1="514.3" y1="481.2" x2="504.9" y2="495.3" stroke="#111111" stroke-width="1.3" stroke-linecap="butt"/>
<line x1="493" y1="499.2" x2="475.1" y2="493.1" stroke="#111111" stroke-width="1.3" stroke-linecap="butt"/>
<line x1="475.1" y1="493.1" x2="475.5" y2="475.5" stroke="#111111" stroke-width="1.3" stroke-linecap="butt"/>
<line x1="480.3" y1="490.4" x2="480.3" y2="475.5" stroke="#111111" stroke-width="1.3" stroke-linecap="butt"/>
<text x="475.2" y="473.20" font-size="13.7" text-anchor="middle" fill="#111111">N</text>
<text x="499.6" y="506.30" font-size="13.7" text-anchor="middle" fill="#111111">S</text>
<text x="508.2" y="442.8" font-size="13.7" fill="#111111">NH<tspan font-size="9.5" dy="3.6">2</tspan></text>
<line x1="514.3" y1="481.2" x2="538.9" y2="487.2" stroke="#111111" stroke-width="1.3" stroke-linecap="butt"/>
<line x1="538.9" y1="487.2" x2="543.5" y2="503.6" stroke="#111111" stroke-width="1.3" stroke-linecap="butt"/>
<line x1="541.9" y1="486.4" x2="546.6" y2="503" stroke="#111111" stroke-width="1.3" stroke-linecap="butt"/>
<text x="545.5" y="517.20" font-size="13.7" text-anchor="middle" fill="#111111">O</text>
<line x1="538.9" y1="487.2" x2="551.1" y2="476.1" stroke="#111111" stroke-width="1.3" stroke-linecap="butt"/>
<text x="557" y="474.60" font-size="13.7" text-anchor="middle" fill="#111111">N</text>
<text x="557" y="462.40" font-size="13.7" text-anchor="middle" fill="#111111">H</text>
<line x1="565.1" y1="471.1" x2="582" y2="475.6" stroke="#111111" stroke-width="1.3" stroke-linecap="butt"/>
<line x1="582" y1="475.6" x2="600.1" y2="458.1" stroke="#111111" stroke-width="1.3" stroke-linecap="butt"/>
<line x1="586.7" y1="477.2" x2="601.3" y2="463.1" stroke="#111111" stroke-width="1.3" stroke-linecap="butt"/>
<line x1="600.1" y1="458.1" x2="598.6" y2="432.2" stroke="#111111" stroke-width="1.3" stroke-linecap="butt"/>
<line x1="598.6" y1="432.2" x2="622.4" y2="423.8" stroke="#111111" stroke-width="1.3" stroke-linecap="butt"/>
<line x1="602.7" y1="435.6" x2="621" y2="429.5" stroke="#111111" stroke-width="1.3" stroke-linecap="butt"/>
<line x1="622.4" y1="423.8" x2="634.1" y2="436.6" stroke="#111111" stroke-width="1.3" stroke-linecap="butt"/>
<line x1="634.1" y1="450.5" x2="625.4" y2="463.2" stroke="#111111" stroke-width="1.3" stroke-linecap="butt"/>
<line x1="600.1" y1="458.1" x2="625.4" y2="463.2" stroke="#111111" stroke-width="1.3" stroke-linecap="butt"/>
<line x1="625.4" y1="463.2" x2="629.3" y2="481.6" stroke="#111111" stroke-width="1.3" stroke-linecap="butt"/>
<line x1="621.3" y1="466.9" x2="624.9" y2="481.4" stroke="#111111" stroke-width="1.3" stroke-linecap="butt"/>
<line x1="624.6" y1="495" x2="613" y2="507" stroke="#111111" stroke-width="1.3" stroke-linecap="butt"/>
<line x1="613" y1="507" x2="588.9" y2="500.4" stroke="#111111" stroke-width="1.3" stroke-linecap="butt"/>
<line x1="610.8" y1="503" x2="591.8" y2="497.7" stroke="#111111" stroke-width="1.3" stroke-linecap="butt"/>
<line x1="588.9" y1="500.4" x2="582" y2="475.6" stroke="#111111" stroke-width="1.3" stroke-linecap="butt"/>
<line x1="645.1" y1="443" x2="664.8" y2="443" stroke="#111111" stroke-width="1.3" stroke-linecap="butt"/>
<text x="638.5" y="448.80" font-size="13.7" text-anchor="middle" fill="#111111">N</text>
<text x="630.5" y="493.60" font-size="13.7" text-anchor="middle" fill="#111111">N</text>
<path d="M527.4 771.4 L549.3 759.1 L571.6 771.5 L571.6 797.2" fill="none" stroke="#F9A3A3" stroke-width="13.6" stroke-linecap="round" stroke-linejoin="round"/>
<circle cx="549.9" cy="758.3" r="9.5" fill="#F9A3A3"/>
<line x1="469" y1="747.4" x2="475.4" y2="731.1" stroke="#111111" stroke-width="1.3" stroke-linecap="butt"/>
<line x1="475.4" y1="731.1" x2="501.1" y2="734.2" stroke="#111111" stroke-width="1.3" stroke-linecap="butt"/>
<line x1="478.4" y1="735.8" x2="497.6" y2="738.1" stroke="#111111" stroke-width="1.3" stroke-linecap="butt"/>
<line x1="501.1" y1="734.2" x2="506.4" y2="758.5" stroke="#111111" stroke-width="1.3" stroke-linecap="butt"/>
<line x1="506.4" y1="758.5" x2="484.2" y2="771.4" stroke="#111111" stroke-width="1.3" stroke-linecap="butt"/>
<line x1="505.4" y1="762.8" x2="488.3" y2="772.9" stroke="#111111" stroke-width="1.3" stroke-linecap="butt"/>
<line x1="471.4" y1="759.7" x2="484.2" y2="771.4" stroke="#111111" stroke-width="1.3" stroke-linecap="butt"/>
<line x1="484.2" y1="771.4" x2="484.2" y2="788.9" stroke="#111111" stroke-width="1.3" stroke-linecap="butt"/>
<line x1="492.4" y1="797.9" x2="506.4" y2="809.3" stroke="#111111" stroke-width="1.3" stroke-linecap="butt"/>
<line x1="494.2" y1="794.1" x2="506.6" y2="803.6" stroke="#111111" stroke-width="1.3" stroke-linecap="butt"/>
<line x1="506.4" y1="809.3" x2="521" y2="801.2" stroke="#111111" stroke-width="1.3" stroke-linecap="butt"/>
<line x1="527.4" y1="788.9" x2="527.4" y2="771.4" stroke="#111111" stroke-width="1.3" stroke-linecap="butt"/>
<line x1="523.9" y1="788.9" x2="523.9" y2="773.7" stroke="#111111" stroke-width="1.3" stroke-linecap="butt"/>
<line x1="527.4" y1="771.4" x2="506.4" y2="758.5" stroke="#111111" stroke-width="1.3" stroke-linecap="butt"/>
<line x1="527.4" y1="771.4" x2="542.7" y2="763" stroke="#111111" stroke-width="1.3" stroke-linecap="butt"/>
<line x1="556.5" y1="763.4" x2="571.6" y2="771.5" stroke="#111111" stroke-width="1.3" stroke-linecap="butt"/>
<line x1="571.6" y1="771.5" x2="571.6" y2="797.2" stroke="#111111" stroke-width="1.3" stroke-linecap="butt"/>
<line x1="571.6" y1="797.2" x2="555.2" y2="805.7" stroke="#111111" stroke-width="1.3" stroke-linecap="butt"/>
<line x1="573" y1="800.4" x2="557.2" y2="808.3" stroke="#111111" stroke-width="1.3" stroke-linecap="butt"/>
<line x1="571.6" y1="797.2" x2="586.8" y2="805.7" stroke="#111111" stroke-width="1.3" stroke-linecap="butt"/>
<text x="465.2" y="759.70" font-size="13.7" text-anchor="middle" fill="#111111">S</text>
<text x="484.2" y="801.70" font-size="13.7" text-anchor="middle" fill="#111111">N</text>
<text x="527.4" y="801.70" font-size="13.7" text-anchor="middle" fill="#111111">N</text>
<text x="549.3" y="764.00" font-size="13.7" text-anchor="middle" fill="#111111">O</text>
<text x="549" y="814.90" font-size="13.7" text-anchor="middle" fill="#111111">O</text>
<text x="589.3" y="814.73" font-size="13.7" fill="#111111">OH</text>
<line x1="571.6" y1="771.5" x2="593.8" y2="758.5" stroke="#111111" stroke-width="1.3" stroke-linecap="butt"/>
<line x1="593.8" y1="758.5" x2="593.8" y2="733.4" stroke="#111111" stroke-width="1.3" stroke-linecap="butt"/>
<line x1="593.8" y1="733.4" x2="615.6" y2="721.1" stroke="#111111" stroke-width="1.3" stroke-linecap="butt"/>
<line x1="598.1" y1="736.3" x2="615.6" y2="726.4" stroke="#111111" stroke-width="1.3" stroke-linecap="butt"/>
<line x1="615.6" y1="721.1" x2="630.5" y2="729.3" stroke="#111111" stroke-width="1.3" stroke-linecap="butt"/>
<line x1="637.6" y1="741" x2="637.6" y2="758.5" stroke="#111111" stroke-width="1.3" stroke-linecap="butt"/>
<line x1="632.9" y1="741" x2="632.9" y2="756.1" stroke="#111111" stroke-width="1.3" stroke-linecap="butt"/>
<line x1="637.6" y1="758.5" x2="615.6" y2="771.3" stroke="#111111" stroke-width="1.3" stroke-linecap="butt"/>
<line x1="615.6" y1="771.3" x2="593.8" y2="758.5" stroke="#111111" stroke-width="1.3" stroke-linecap="butt"/>
<line x1="615.6" y1="767" x2="598.1" y2="756.5" stroke="#111111" stroke-width="1.3" stroke-linecap="butt"/>
<text x="632.3" y="738.73" font-size="13.7" fill="#111111">NH<tspan font-size="9.5" dy="-6">+</tspan></text>
</svg></body></html>
